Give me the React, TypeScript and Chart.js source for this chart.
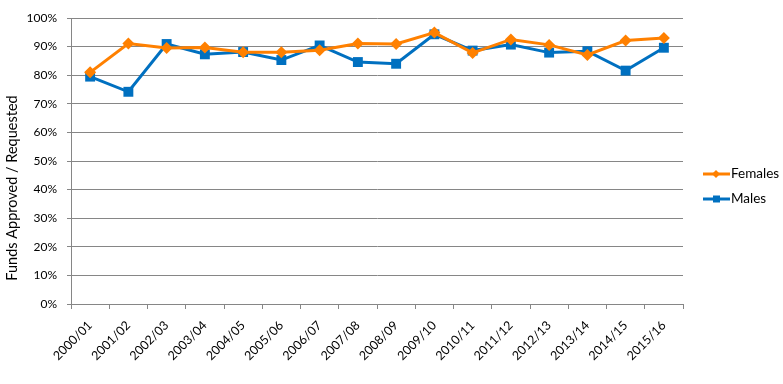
import React, { useEffect, useRef } from "react";
import { Chart, registerables } from "chart.js";

Chart.register(...registerables);

const categories = [
  "2000/01", "2001/02", "2002/03", "2003/04", "2004/05", "2005/06", "2006/07", "2007/08",
  "2008/09", "2009/10", "2010/11", "2011/12", "2012/13", "2013/14", "2014/15", "2015/16",
];
const females = [81.0, 91.1, 89.5, 89.7, 88.0, 88.0, 88.7, 91.1, 90.9, 94.9, 87.8, 92.5, 90.6, 87.1, 92.1, 93.0];
const males = [79.5, 74.2, 90.9, 87.3, 88.1, 85.3, 90.4, 84.6, 84.0, 94.3, 88.6, 90.7, 87.9, 88.4, 81.6, 89.6];
const yTicks = [0, 10, 20, 30, 40, 50, 60, 70, 80, 90, 100];
const yTitle = "Funds Approved / Requested";

const ORANGE = "#FF8000";
const BLUE = "#0070C0";
const GRID = "#868686";
const FONT = "Lato, 'Liberation Sans', sans-serif";

const legendPlugin = {
  id: "customLegend",
  afterDraw(chart: any) {
    const ctx = chart.ctx;
    const items = [
      { label: "Females", color: ORANGE, style: "diamond", y: 174 },
      { label: "Males", color: BLUE, style: "square", y: 199 },
    ];
    ctx.save();
    for (const it of items) {
      ctx.strokeStyle = it.color;
      ctx.lineWidth = 3;
      ctx.beginPath();
      ctx.moveTo(703, it.y);
      ctx.lineTo(730, it.y);
      ctx.stroke();
      ctx.fillStyle = it.color;
      ctx.beginPath();
      if (it.style === "diamond") {
        ctx.moveTo(716, it.y - 4);
        ctx.lineTo(720, it.y);
        ctx.lineTo(716, it.y + 4);
        ctx.lineTo(712, it.y);
        ctx.closePath();
      } else {
        ctx.rect(713, it.y - 3.5, 7, 7);
      }
      ctx.fill();
      ctx.fillStyle = "#000";
      ctx.font = `13.5px ${FONT}`;
      ctx.textBaseline = "middle";
      ctx.textAlign = "left";
      ctx.fillText(it.label, 731, it.y);
    }
    // y axis title
    ctx.translate(12, 188);
    ctx.rotate(-Math.PI / 2);
    ctx.font = `14.5px ${FONT}`;
    ctx.textAlign = "center";
    ctx.textBaseline = "middle";
    ctx.fillText(yTitle, 0, 0);
    ctx.restore();
  },
};

export default function App() {
  const ref = useRef<HTMLCanvasElement>(null);
  useEffect(() => {
    if (!ref.current) return;
    const chart = new Chart(ref.current, {
      type: "line",
      data: {
        labels: categories,
        datasets: [
          {
            label: "Females",
            data: females,
            borderColor: ORANGE,
            backgroundColor: ORANGE,
            borderWidth: 3,
            pointStyle: "rectRot",
            pointRadius: 6,
            pointBorderWidth: 0,
            tension: 0,
          },
          {
            label: "Males",
            data: males,
            borderColor: BLUE,
            backgroundColor: BLUE,
            borderWidth: 3,
            pointStyle: "rect",
            pointRadius: 7,
            pointBorderWidth: 0,
            tension: 0,
          },
        ],
      },
      options: {
        animation: false,
        responsive: false,
        maintainAspectRatio: false,
        layout: { padding: { top: 18, right: 100, left: 0, bottom: 0 } },
        plugins: { legend: { display: false }, tooltip: { enabled: false } },
        scales: {
          x: {
            type: "category",
            offset: true,
            grid: {
              offset: true,
              drawOnChartArea: false,
              drawTicks: true,
              tickLength: 5,
              color: GRID,
            },
            border: { display: true, color: GRID, width: 1 },
            ticks: {
              minRotation: 45,
              maxRotation: 45,
              color: "#000",
              font: { family: FONT, size: 12.5 },
              padding: 9,
            },
            afterFit(scale: any) {
              scale.height = 80;
            },
          },
          y: {
            min: 0,
            max: 100,
            afterBuildTicks(scale: any) {
              scale.ticks = yTicks.map((v) => ({ value: v }));
            },
            grid: { color: GRID, tickLength: 4, drawTicks: true },
            border: { display: true, color: GRID, width: 1 },
            ticks: {
              color: "#000",
              padding: 10,
              font: { family: FONT, size: 12 },
              callback: (v: any) => `${v}%`,
            },
            afterFit(scale: any) {
              scale.width = 71;
            },
          },
        },
      },
      plugins: [legendPlugin],
    });
    return () => chart.destroy();
  }, []);
  return (
    <div style={{ position: "fixed", left: 0, top: 0, width: 783, height: 384, background: "#fff" }}>
      <canvas ref={ref} width={783} height={384} style={{ width: 783, height: 384 }} />
    </div>
  );
}
